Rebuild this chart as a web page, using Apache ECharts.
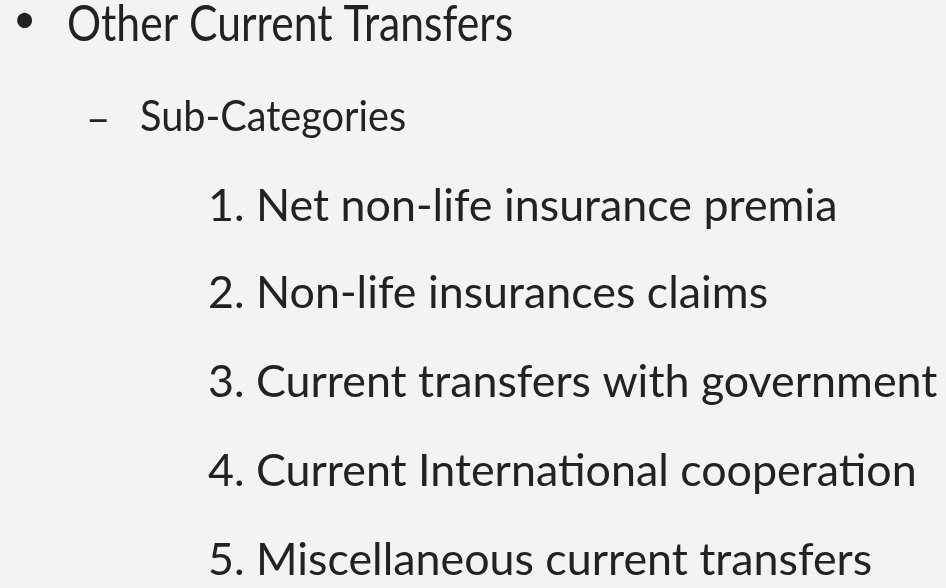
<!DOCTYPE html>
<html><head><meta charset="utf-8">
<script src="https://cdn.jsdelivr.net/npm/echarts@6/dist/echarts.min.js"></script>
<style>html,body{margin:0;padding:0;background:#f2f3f2;}#c{width:946px;height:588px;}</style>
</head><body><div id="c"></div>
<script>
const heading = 'Other Current Transfers';
const subHeading = 'Sub-Categories';
const itemNumbers = ['1.', '2.', '3.', '4.', '5.'];
const itemLabels = [
  'Net non-life insurance premia',
  'Non-life insurances claims',
  'Current transfers with government',
  'Current International cooperation',
  'Miscellaneous current transfers'
];

const FONT = 'Lato';
const COLOR = '#222222';
const itemY = [207, 294, 383, 472, 561];

const elements = [];
elements.push({type:'text', left:13, top:0, style:{text:'•', font:'400 40px ' + FONT, fill:COLOR}});
elements.push({type:'text', x:67, y:25, scaleX:0.853, style:{text:heading, font:'400 50px ' + FONT, fill:COLOR, verticalAlign:'middle'}});
elements.push({type:'text', x:86, y:119, style:{text:'–', font:'400 42px ' + FONT, fill:COLOR, verticalAlign:'middle'}});
elements.push({type:'text', x:140, y:117, scaleX:0.923, style:{text:subHeading, font:'400 43px ' + FONT, fill:COLOR, verticalAlign:'middle'}});
itemLabels.forEach((lab, i) => {
  elements.push({type:'text', x:208, y:itemY[i], style:{text:itemNumbers[i] + ' ' + lab, font:'400 44.8px ' + FONT, fill:COLOR, verticalAlign:'middle'}});
});

const chart = echarts.init(document.getElementById('c'));
chart.setOption({backgroundColor:'#f2f3f2', graphic:{elements}});
</script></body></html>
